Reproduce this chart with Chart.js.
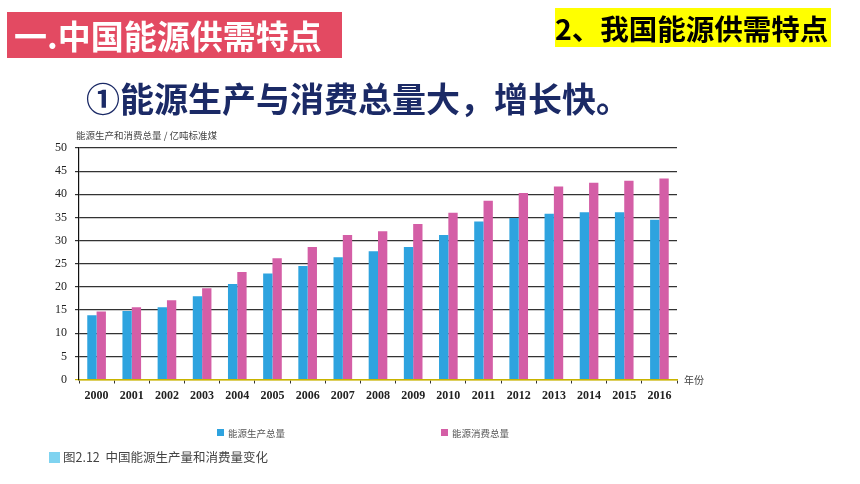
<!DOCTYPE html>
<html>
<head>
<meta charset="utf-8">
<script src="https://cdn.jsdelivr.net/npm/chart.js@4/dist/chart.umd.min.js"></script>
<style>
  body { margin: 0; background: #fff; }
  #wrap { position: relative; width: 860px; height: 484px; overflow: hidden; }
  #chart { position: absolute; left: 0; top: 0; }
  .box { position: absolute; font-family: "Noto Sans CJK SC", sans-serif; font-weight: 700; white-space: nowrap; }
  #title1 { left: 7px; top: 12px; width: 335px; height: 46px; background: #e34a62; color: #fff; font-size: 33px; line-height: 46px; padding-left: 7px; box-sizing: border-box; }
  #title2 { left: 555px; top: 8px; width: 276px; height: 39px; background: #ffff00; color: #000; font-size: 28.5px; line-height: 39px; }
  #sub { left: 86px; top: 74px; color: #1b2a66; font-size: 34px; line-height: 48px; }
  #caption { position: absolute; left: 49px; top: 449px; font-family: "Noto Sans CJK SC", sans-serif; font-size: 12.5px; color: #444; line-height: 16px; white-space: nowrap; }
  #caption span { display: inline-block; width: 11px; height: 11px; background: #7fd3f0; vertical-align: -1px; margin-right: 3px; }
</style>
</head>
<body>
<div id="wrap">
  <canvas id="chart" width="860" height="484"></canvas>
  <div class="box" id="title1">一.中国能源供需特点</div>
  <div class="box" id="title2">2、我国能源供需特点</div>
  <div class="box" id="sub">①能源生产与消费总量大，增长快。</div>
  <div id="caption"><span></span>图2.12&nbsp; 中国能源生产量和消费量变化</div>
</div>
<script>
const years = ['2000', '2001', '2002', '2003', '2004', '2005', '2006', '2007', '2008',
  '2009', '2010', '2011', '2012', '2013', '2014', '2015', '2016'];
const production = [13.9, 14.8, 15.6, 18.0, 20.6, 22.9, 24.5, 26.4, 27.7,
  28.6, 31.2, 34.1, 34.9, 35.8, 36.1, 36.1, 34.5];
const consumption = [14.7, 15.6, 17.1, 19.7, 23.2, 26.2, 28.6, 31.2, 32.0,
  33.6, 36.0, 38.6, 40.3, 41.7, 42.5, 42.9, 43.4];
const seriesNames = ['能源生产总量', '能源消费总量'];
const yTitle = '能源生产和消费总量 / 亿吨标准煤';
const xUnit = '年份';

const blue = '#2ea3df';
const pink = '#d45ea6';

// y title, unit label and the legend sit in odd places, so draw them by hand
const extraText = {
  id: 'extraText',
  afterDraw(chart) {
    const ctx = chart.ctx;
    const area = chart.chartArea;
    ctx.save();
    ctx.fillStyle = '#444';
    ctx.textBaseline = 'middle';
    ctx.font = '9.5px "Noto Sans CJK SC", sans-serif';
    ctx.fillText(yTitle, 76, 135);
    ctx.font = '10px "Noto Sans CJK SC", sans-serif';
    ctx.fillText(xUnit, area.right + 7, area.bottom + 1);

    const items = [[217, blue, seriesNames[0]], [441, pink, seriesNames[1]]];
    ctx.font = '9.5px "Noto Sans CJK SC", sans-serif';
    items.forEach(([x, color, name]) => {
      ctx.fillStyle = color;
      ctx.fillRect(x, 429, 7, 7);
      ctx.fillStyle = '#555';
      ctx.fillText(name, x + 11, 433);
    });
    ctx.restore();
  }
};

new Chart(document.getElementById('chart'), {
  type: 'bar',
  data: {
    labels: years,
    datasets: [
      { label: seriesNames[0], data: production, backgroundColor: blue,
        categoryPercentage: 0.53, barPercentage: 1.0 },
      { label: seriesNames[1], data: consumption, backgroundColor: pink,
        categoryPercentage: 0.53, barPercentage: 1.0 }
    ]
  },
  options: {
    responsive: false,
    animation: false,
    layout: { padding: { left: 0, right: 183, top: 148, bottom: 74.5 } },
    plugins: { legend: { display: false }, tooltip: { enabled: false } },
    scales: {
      x: {
        afterFit: (scale) => { scale.height = 30; },
        grid: { drawOnChartArea: false, drawTicks: true, tickLength: 4, color: '#333' },
        border: { display: true, color: '#c9b400', width: 1.5 },
        ticks: { color: '#222', padding: 5, maxRotation: 0, autoSkip: false,
          font: { family: '"Liberation Serif", serif', size: 12, weight: 'bold' } }
      },
      y: {
        min: 0,
        max: 50,
        afterFit: (scale) => { scale.width = 79; },
        grid: {
          color: (c) => (c.tick && c.tick.value === 0 ? '#c9b400' : '#333'),
          lineWidth: 1.2,
          tickLength: 4
        },
        border: { display: true, color: '#111', width: 1.2 },
        ticks: { stepSize: 5, color: '#222', padding: 8,
          font: { family: '"Liberation Serif", serif', size: 12 } }
      }
    }
  },
  plugins: [extraText]
});
</script>
</body>
</html>
